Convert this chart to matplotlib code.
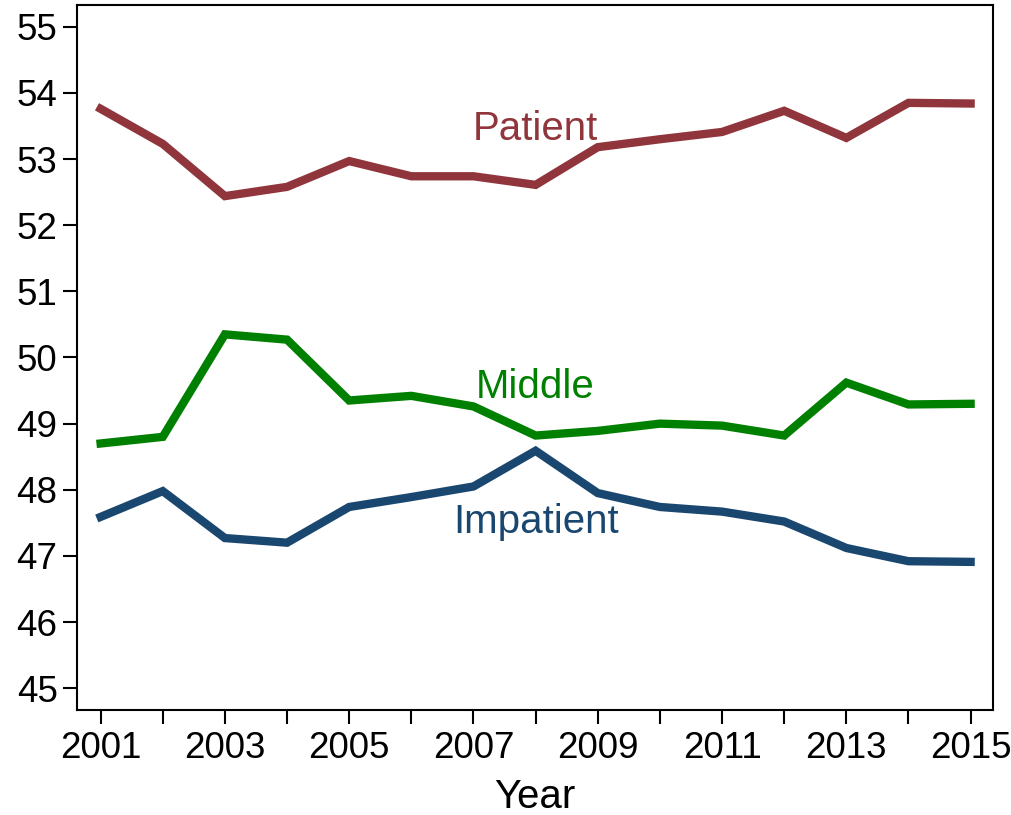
import matplotlib.pyplot as plt

plt.rcParams['font.family'] = ['Liberation Sans', 'DejaVu Sans']

years = list(range(2001, 2016))
patient = [53.76, 53.23, 52.44, 52.58, 52.97, 52.74, 52.74, 52.61,
           53.18, 53.30, 53.41, 53.73, 53.32, 53.85, 53.84]
middle = [48.70, 48.80, 50.35, 50.27, 49.35, 49.42, 49.26, 48.82,
          48.89, 49.00, 48.97, 48.82, 49.62, 49.29, 49.30]
impatient = [47.59, 47.98, 47.27, 47.20, 47.74, 47.89, 48.05, 48.59,
             47.95, 47.74, 47.67, 47.52, 47.12, 46.92, 46.91]

fig = plt.figure(figsize=(10.12, 8.15), dpi=100)
ax = fig.add_axes([0.0761, 0.1288, 0.9051, 0.8651])

ax.plot(years, patient, color='#90353B', lw=6, solid_joinstyle='miter')
ax.plot(years, middle, color='#008000', lw=6, solid_joinstyle='miter')
ax.plot(years, impatient, color='#1A476F', lw=6, solid_joinstyle='miter')

ax.text(2008, 53.46, 'Patient', color='#90353B', fontsize=29, ha='center', va='center')
ax.text(2008, 49.56, 'Middle', color='#008000', fontsize=29, ha='center', va='center')
ax.text(2008, 47.51, 'Impatient', color='#1A476F', fontsize=29, ha='center', va='center')

ax.set_xlim(2000.62, 2015.36)
ax.set_ylim(44.67, 55.33)
ax.set_xticks(years)
ax.set_xticklabels([str(y) if y % 2 == 1 else '' for y in years])
ax.set_yticks(range(45, 56))
ax.tick_params(direction='out', length=10, width=1.5, labelsize=26.5)
ax.tick_params(axis='y', pad=4)
ax.tick_params(axis='x', pad=5)
for s in ax.spines.values():
    s.set_linewidth(1.5)
ax.set_xlabel('Year', fontsize=29, labelpad=9)

fig.savefig('out.png', dpi=100)
